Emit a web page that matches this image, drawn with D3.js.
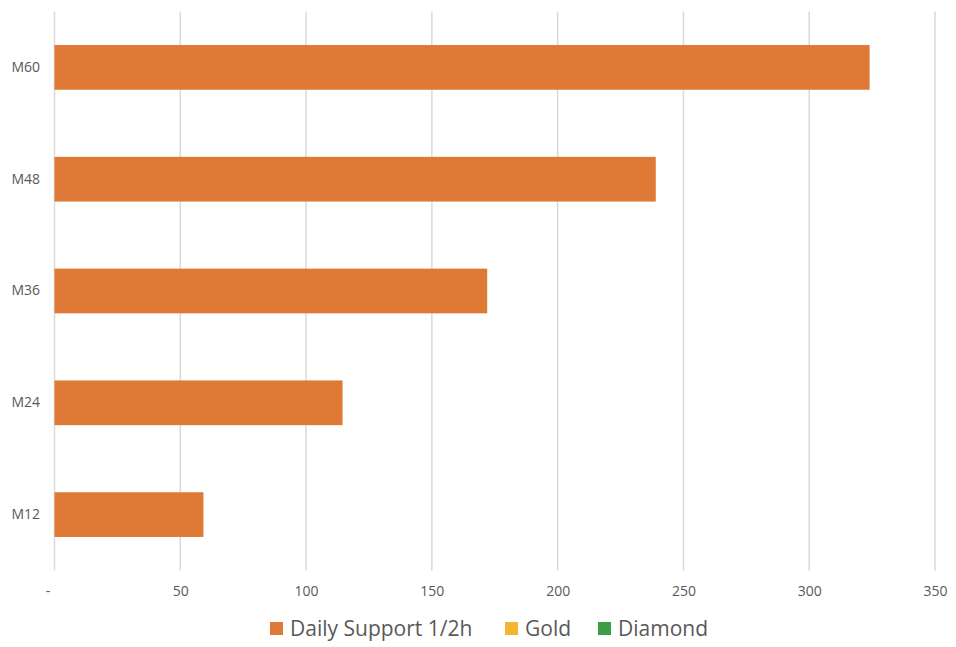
<!DOCTYPE html>
<html><head><meta charset="utf-8">
<script src="https://cdn.jsdelivr.net/npm/d3@7"></script>
<style>body{margin:0;background:#fff}svg{display:block}text{font-family:"Open Sans","Noto Sans",sans-serif}</style>
</head><body>
<svg id="c" width="956" height="647"></svg>
<script>
const categories = ["M60","M48","M36","M24","M12"];
const dailySupport = [324, 239, 172, 114.5, 59.2];
const tickValues = [0,50,100,150,200,250,300,350];
const tickLabels = ["-","50","100","150","200","250","300","350"];
const legendNames = ["Daily Support 1/2h","Gold","Diamond"];
const legendColors = ["#DE7A35","#F4B52F","#3E9E48"];

const svg = d3.select("#c");
const x = d3.scaleLinear().domain([0,350]).range([54.5,935]);
const y = d3.scaleBand().domain(categories).range([11.5,570.5]).paddingInner(0.6).paddingOuter(0.3);

// gridlines
svg.append("g").selectAll("line").data(tickValues).join("line")
  .attr("x1",d=>x(d)).attr("x2",d=>x(d)).attr("y1",11.5).attr("y2",570.5)
  .attr("stroke","#d9d9d9").attr("stroke-width",1.5);

// bars
svg.append("g").selectAll("rect").data(categories).join("rect")
  .attr("x",x(0)).attr("y",d=>y(d))
  .attr("width",(d,i)=>x(dailySupport[i])-x(0))
  .attr("height",y.bandwidth())
  .attr("fill",legendColors[0]);

// x axis labels
const xAxis = d3.axisBottom(x).tickValues(tickValues).tickFormat((d,i)=>tickLabels[i]).tickSize(0).tickPadding(0);
const gx = svg.append("g").attr("transform","translate(0,586)").call(xAxis);
gx.select(".domain").remove();
gx.selectAll("text").attr("fill","#595959").style("font-size","14px").attr("dy","0.71em")
  .attr("dx",(d,i)=>i===0?-7:0);

// y axis labels
const yAxis = d3.axisLeft(y).tickSize(0).tickPadding(0);
const gy = svg.append("g").attr("transform","translate(40,0)").call(yAxis);
gy.select(".domain").remove();
gy.selectAll("text").attr("fill","#595959").style("font-size","14px");

// legend
const legX = [270, 505, 598];
const leg = svg.append("g").selectAll("g").data(legendNames).join("g")
  .attr("transform",(d,i)=>`translate(${legX[i]},622)`);
leg.append("rect").attr("width",13).attr("height",13).attr("fill",(d,i)=>legendColors[i]);
leg.append("text").attr("x",20).attr("y",6.5).attr("dy","0.36em")
  .attr("fill","#595959").style("font-size","21px").text(d=>d);
</script>
</body></html>
